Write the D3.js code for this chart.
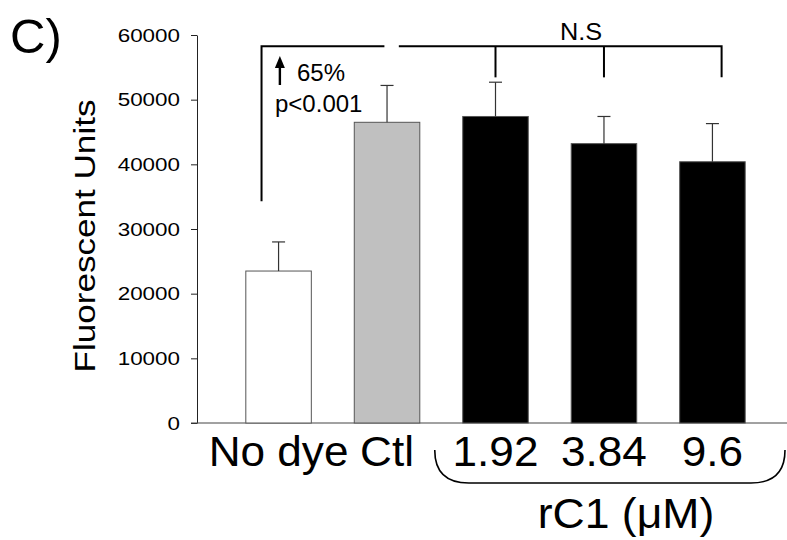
<!DOCTYPE html>
<html>
<head>
<meta charset="utf-8">
<script src="https://cdn.jsdelivr.net/npm/d3@7"></script>
<style>
  body { margin: 0; background: #fff; }
  svg { display: block; font-family: "Liberation Sans", Arial, sans-serif; }
</style>
</head>
<body>
<svg width="787" height="540"></svg>
<script>
// data
var categories = ["No dye", "Ctl", "1.92", "3.84", "9.6"];
var means = [23500, 46500, 47400, 43200, 40400];
var errTops = [28000, 52200, 52700, 47400, 46300];
var fills = ["#ffffff", "#c0c0c0", "#000000", "#000000", "#000000"];
var yTicks = [0, 10000, 20000, 30000, 40000, 50000, 60000];
var bracketTop = 58250;
var leftDropEnd = 34300;
var rightDropEnd = 53450;

var svg = d3.select('svg');

var y = d3.scaleLinear().domain([0, 60000]).range([423, 35]);
var x = d3.scaleBand().domain(categories).range([197, 794])
  .paddingInner(0.396).paddingOuter(0.45);
var bw = x.bandwidth();

// y axis
var yAxis = svg.append('g')
  .attr('transform', 'translate(197,0)')
  .call(d3.axisLeft(y).tickValues(yTicks).tickFormat(d3.format('d')).tickSize(6).tickSizeOuter(0));
yAxis.select('.domain').attr('stroke', '#222');
yAxis.selectAll('.tick line').attr('stroke', '#222');
yAxis.selectAll('.tick text')
  .attr('x', 0)
  .attr('transform', 'translate(-17,0) scale(1.18,1)')
  .attr('font-size', 19)
  .attr('font-family', '"Liberation Sans", Arial, sans-serif')
  .attr('fill', '#000');

// x axis baseline
svg.append('line')
  .attr('x1', 191).attr('x2', 787)
  .attr('y1', y(0)).attr('y2', y(0))
  .attr('stroke', '#444').attr('stroke-width', 1);

// bars
svg.selectAll('.bar').data(categories).enter().append('rect')
  .attr('class', 'bar')
  .attr('x', function(d){ return x(d); })
  .attr('y', function(d, i){ return y(means[i]); })
  .attr('width', bw)
  .attr('height', function(d, i){ return y(0) - y(means[i]); })
  .attr('fill', function(d, i){ return fills[i]; })
  .attr('stroke', '#555')
  .attr('stroke-width', 1);

// error bars (upper only)
var err = svg.selectAll('.err').data(categories).enter().append('g').attr('class', 'err');
err.append('line')
  .attr('x1', function(d){ return x(d) + bw / 2; })
  .attr('x2', function(d){ return x(d) + bw / 2; })
  .attr('y1', function(d, i){ return y(means[i]); })
  .attr('y2', function(d, i){ return y(errTops[i]); })
  .attr('stroke', '#333').attr('stroke-width', 1.2);
err.append('line')
  .attr('x1', function(d){ return x(d) + bw / 2 - 6.5; })
  .attr('x2', function(d){ return x(d) + bw / 2 + 6.5; })
  .attr('y1', function(d, i){ return y(errTops[i]); })
  .attr('y2', function(d, i){ return y(errTops[i]); })
  .attr('stroke', '#333').attr('stroke-width', 1.2);

// significance brackets
var bk = svg.append('g').attr('stroke', '#000').attr('stroke-width', 2).attr('fill', 'none');
bk.append('path').attr('d', d3.line()([
  [x("No dye") + bw * 0.24, y(leftDropEnd)],
  [x("No dye") + bw * 0.24, y(bracketTop)],
  [x("Ctl") + bw * 0.46, y(bracketTop)]
]));
bk.append('path').attr('d', d3.line()([
  [x("Ctl") + bw * 0.68, y(bracketTop)],
  [x("9.6") + bw * 0.64, y(bracketTop)],
  [x("9.6") + bw * 0.64, y(rightDropEnd)]
]));
["1.92", "3.84"].forEach(function(c){
  bk.append('line')
    .attr('x1', x(c) + bw / 2).attr('x2', x(c) + bw / 2)
    .attr('y1', y(bracketTop)).attr('y2', y(rightDropEnd));
});

// "up 65%" annotation
var ax = x("No dye") + bw * 0.52;
svg.append('line')
  .attr('x1', ax).attr('x2', ax).attr('y1', 85).attr('y2', 64)
  .attr('stroke', '#000').attr('stroke-width', 2.4);
svg.append('path')
  .attr('d', d3.line()([[ax - 5, 68], [ax, 56], [ax + 5, 68]]) + 'Z')
  .attr('fill', '#000');

function label(txt, px, py, size, sx, anchor){
  return svg.append('text')
    .attr('transform', 'translate(' + px + ',' + py + ') scale(' + sx + ',1)')
    .attr('text-anchor', anchor || 'middle')
    .attr('font-size', size)
    .attr('fill', '#000')
    .text(txt);
}

label("65%", 297, 81, 24, 1.0, 'start');
label("p<0.001", 275, 112, 24, 1.0, 'start');
label("N.S", 581, 39.5, 23, 1.1);
label("C)", 10, 53, 49, 1.0, 'start');

// category labels
categories.forEach(function(c){
  label(c, x(c) + bw / 2, 466, 42, 1.05);
});
label("rC1 (\u03bcM)", 626, 528, 42, 1.06);

// curly group bracket under rC1 doses
var bx0 = x("1.92") - 28, bx1 = 785;
svg.append('path')
  .attr('d', 'M' + bx0 + ',450 Q' + bx0 + ',483 ' + (bx0 + 34) + ',483 L' + (bx1 - 34) + ',483 Q' + bx1 + ',483 ' + bx1 + ',450')
  .attr('fill', 'none').attr('stroke', '#000').attr('stroke-width', 1.6);

// y axis title
svg.append('text')
  .attr('transform', 'translate(95,236) rotate(-90) scale(1.17,1)')
  .attr('text-anchor', 'middle')
  .attr('font-size', 30)
  .attr('fill', '#000')
  .text("Fluorescent Units");
</script>
</body>
</html>
